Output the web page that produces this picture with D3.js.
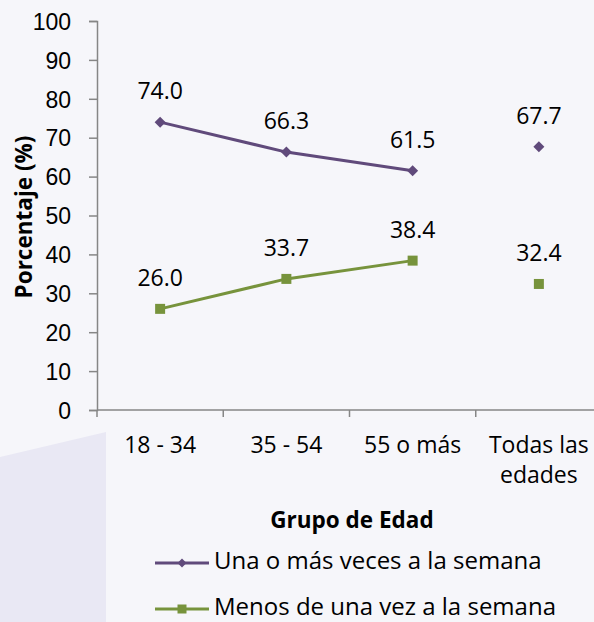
<!DOCTYPE html>
<html>
<head>
<meta charset="utf-8">
<script src="https://cdn.jsdelivr.net/npm/d3@7"></script>
<style>
  body { margin: 0; background: #f6f6fa; }
  svg { display: block; font-family: 'Open Sans', sans-serif; }
  .tick text { font-size: 23px; fill: #000; }
  .domain, .tick line { stroke: #868686; stroke-width: 1.5; }
  .val { font-size: 23px; text-anchor: middle; fill: #000; }
  .title { font-size: 22.5px; font-weight: bold; fill: #000; }
  .legend text { font-size: 24px; fill: #000; }
</style>
</head>
<body>
<svg width="594" height="622"></svg>
<script>
// chart values
const categories = ['18 - 34', '35 - 54', '55 o más', 'Todas las edades']
const weeklyOrMore = [74.0, 66.3, 61.5, 67.7]
const lessThanWeekly = [26.0, 33.7, 38.4, 32.4]
const seriesNames = ['Una o más veces a la semana', 'Menos de una vez a la semana']
const yTicks = [0, 10, 20, 30, 40, 50, 60, 70, 80, 90, 100]

// the last category is a summary, so the lines stop before it
const connected = 3

const purple = '#604a7b'
const green = '#77933c'

const svg = d3.select('svg')

// light lavender shape behind the bottom left corner
svg.append('path')
  .attr('d', 'M0,457 L106,432 L106,622 L0,622 Z')
  .style('fill', '#e9e8f4')

const x = d3.scaleBand()
  .domain(categories)
  .range([97, 602])

const y = d3.scaleLinear()
  .domain([0, 100])
  .range([410, 21])

// y axis
const yAxis = svg.append('g')
  .attr('transform', 'translate(97,0)')
  .call(d3.axisLeft(y).tickValues(yTicks).tickSize(8).tickPadding(18))
yAxis.selectAll('.tick text').attr('dy', '0.36em')

// x axis, ticks sit between categories
const xAxis = svg.append('g')
  .attr('transform', 'translate(0,410)')
xAxis.append('line')
  .attr('class', 'domain')
  .attr('x1', 97).attr('x2', 602)
xAxis.selectAll('line.tick-mark')
  .data(categories)
  .enter()
  .append('line')
  .attr('class', 'tick-mark')
  .attr('x1', d => x(d)).attr('x2', d => x(d))
  .attr('y1', 0).attr('y2', 7)
  .style('stroke', '#868686').style('stroke-width', 1.5)

// category labels, "Todas las edades" wraps on two lines
const catLabels = xAxis.selectAll('text.cat')
  .data(categories)
  .enter()
  .append('text')
  .attr('class', 'cat')
  .attr('text-anchor', 'middle')
  .style('font-size', '23px')
  .attr('y', 43)
catLabels.each(function (d) {
  const t = d3.select(this)
  const cx = x(d) + x.bandwidth() / 2
  if (d === 'Todas las edades') {
    t.append('tspan').attr('x', cx).text('Todas las')
    t.append('tspan').attr('x', cx).attr('dy', 30).text('edades')
  } else {
    t.append('tspan').attr('x', cx).text(d)
  }
})

// axis titles
svg.append('text')
  .attr('class', 'title')
  .attr('text-anchor', 'middle')
  .attr('x', 352)
  .attr('y', 528)
  .text('Grupo de Edad')

svg.append('text')
  .attr('class', 'title')
  .attr('text-anchor', 'middle')
  .attr('transform', 'translate(32,217) rotate(-90)')
  .text('Porcentaje (%)')

const cx = (d, i) => x(categories[i]) + x.bandwidth() / 2

const line = d3.line()
  .x((d, i) => cx(d, i))
  .y(d => y(d))

const series = [
  { name: seriesNames[0], values: weeklyOrMore, color: purple, marker: 'diamond' },
  { name: seriesNames[1], values: lessThanWeekly, color: green, marker: 'square' }
]

const markerPath = (type, px, py) => {
  if (type === 'diamond') {
    return `M${px},${py - 5.5} L${px + 5.5},${py} L${px},${py + 5.5} L${px - 5.5},${py} Z`
  }
  return `M${px - 5},${py - 5} h10 v10 h-10 Z`
}

series.forEach(s => {
  const g = svg.append('g')

  g.append('path')
    .datum(s.values.slice(0, connected))
    .attr('d', line)
    .style('fill', 'none')
    .style('stroke', s.color)
    .style('stroke-width', 3)

  g.selectAll('path.mark')
    .data(s.values)
    .enter()
    .append('path')
    .attr('class', 'mark')
    .attr('d', (d, i) => markerPath(s.marker, cx(d, i), y(d)))
    .style('fill', s.color)

  g.selectAll('text.val')
    .data(s.values)
    .enter()
    .append('text')
    .attr('class', 'val')
    .attr('x', (d, i) => cx(d, i))
    .attr('y', d => y(d) - 23)
    .text(d => d.toFixed(1))
})

// legend
const legend = svg.append('g').attr('class', 'legend')
const legendRows = legend.selectAll('g')
  .data(series)
  .enter()
  .append('g')
  .attr('transform', (d, i) => `translate(155, ${563 + i * 46})`)

legendRows.append('line')
  .attr('x1', 0).attr('x2', 54)
  .style('stroke', d => d.color)
  .style('stroke-width', 3)

legendRows.append('path')
  .attr('d', d => d.marker === 'diamond'
    ? 'M27,-4.5 L31.5,0 L27,4.5 L22.5,0 Z'
    : 'M22.5,-4.5 h9 v9 h-9 Z')
  .style('fill', d => d.color)

legendRows.append('text')
  .attr('x', 59)
  .attr('y', 6)
  .text(d => d.name)
</script>
</body>
</html>
